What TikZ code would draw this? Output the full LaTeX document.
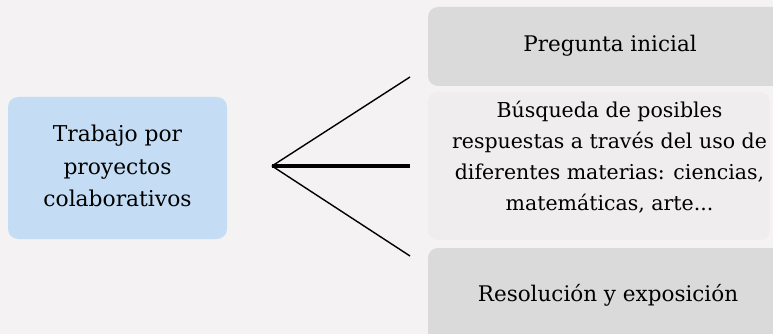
\documentclass[tikz,border=0pt]{standalone}
\usepackage{fontspec}
\setmainfont{DejaVu Serif}
\definecolor{bg}{HTML}{F4F2F3}
\definecolor{bluebox}{HTML}{C5DDF4}
\definecolor{greybox}{HTML}{DADADA}
\definecolor{lightbox}{HTML}{EFEDED}
\begin{document}
\begin{tikzpicture}[x=1pt,y=-1pt,
  box/.style={inner sep=0pt, align=center, font=\fontsize{20.5}{31}\selectfont},
  big/.style={font=\fontsize{21.5}{31}\selectfont},
  link/.style={line width=1.4pt, black}]
\fill[bg] (0,0) rectangle (773,334);
\useasboundingbox (0,0) rectangle (773,334);
\fill[bluebox, rounded corners=10pt] (8,97) rectangle (227,239);
\node[box, font=\fontsize{21.8}{32.5}\selectfont] (a) at (117.5,166) {Trabajo por\\proyectos\\colaborativos};
\fill[greybox, rounded corners=10pt] (428,7) rectangle (790,86);
\node[box, big] (b1) at (610,46) {Pregunta inicial};
\fill[lightbox, rounded corners=10pt] (428,92) rectangle (770,240);
\node[box] (b2) at (609.5,157) {Búsqueda de posibles\\respuestas a través del uso de\\diferentes materias: ciencias,\\matemáticas, arte...};
\fill[greybox, rounded corners=10pt] (428,248) rectangle (790,350);
\node[box, big] (b3) at (608,295) {Resolución y exposición};
\coordinate (c) at (272,166);
\coordinate (e1) at (410,77);
\coordinate (e2) at (410,166);
\coordinate (e3) at (410,256);
\draw[link] (c) -- (e1);
\draw[link, line width=3.4pt] (c) -- (e2);
\draw[link] (c) -- (e3);
\end{tikzpicture}
\end{document}
